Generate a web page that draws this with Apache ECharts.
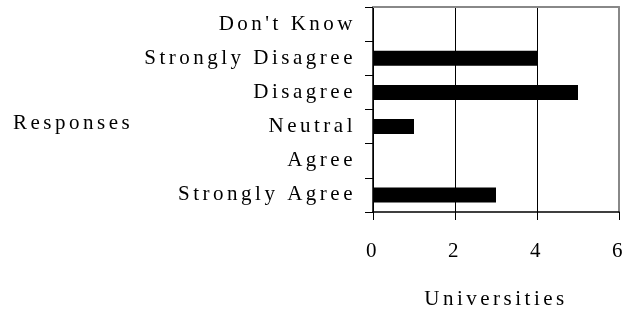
<!DOCTYPE html>
<html>
<head>
<meta charset="utf-8">
<script src="https://cdn.jsdelivr.net/npm/echarts@6/dist/echarts.min.js"></script>
<style>
  html, body { margin: 0; padding: 0; background: #fff; }
  #chart { width: 638px; height: 312px; }
</style>
</head>
<body>
<div id="chart"></div>
<script>
const categories = ['Strongly Agree', 'Agree', 'Neutral', 'Disagree', 'Strongly Disagree', "Don't Know"];
const universities = [3, 0, 1, 5, 4, 0];
const xMin = 0;
const xMax = 6;
const xStep = 2;

const font = 'Liberation Serif';

// the original text is widely letter-spaced; apply it to canvas draw and measure calls
const ctxProto = CanvasRenderingContext2D.prototype;
['fillText', 'strokeText', 'measureText'].forEach(fn => {
  const orig = ctxProto[fn];
  ctxProto[fn] = function () {
    this.letterSpacing = '3.5px';
    return orig.apply(this, arguments);
  };
});

const chart = echarts.init(document.getElementById('chart'));

const option = {
  animation: false,
  backgroundColor: '#fff',
  grid: { left: 373, right: 19, top: 7, bottom: 100, containLabel: false, outerBoundsMode: 'none' },
  graphic: [
    {
      type: 'text',
      left: 13,
      top: 111,
      style: { text: 'Responses', fontSize: 21, fontFamily: font, fill: '#000' }
    }
  ],
  xAxis: [
    {
      type: 'value',
      min: xMin,
      max: xMax,
      interval: xStep,
      name: 'Universities',
      nameLocation: 'middle',
      nameGap: 75,
      nameTextStyle: { fontSize: 21, fontFamily: font, color: '#000' },
      axisLine: { show: true, onZero: false, lineStyle: { color: '#000', width: 1.5 } },
      axisTick: { show: true, length: 8, lineStyle: { color: '#000' } },
      axisLabel: { fontSize: 21, fontFamily: font, color: '#000', margin: 27 },
      splitLine: { show: true, lineStyle: { color: '#000', width: 1 } }
    },
    {
      type: 'value',
      position: 'top',
      min: xMin,
      max: xMax,
      interval: xStep,
      axisLine: { show: true, onZero: false, lineStyle: { color: '#888', width: 2 } },
      axisTick: { show: false },
      axisLabel: { show: false },
      splitLine: { show: false }
    }
  ],
  yAxis: [
    {
      type: 'category',
      data: categories,
      axisLine: { show: true, onZero: false, lineStyle: { color: '#000', width: 1.5 } },
      axisTick: { show: true, length: 8, lineStyle: { color: '#000' } },
      axisLabel: { fontSize: 21, fontFamily: font, color: '#000', margin: 17 },
      splitLine: { show: false }
    },
    {
      type: 'category',
      data: categories,
      position: 'right',
      axisLine: { show: true, onZero: false, lineStyle: { color: '#888', width: 2 } },
      axisTick: { show: false },
      axisLabel: { show: false }
    }
  ],
  series: [
    {
      type: 'bar',
      data: universities,
      barWidth: 15,
      itemStyle: { color: '#000' }
    }
  ]
};

chart.setOption(option);
</script>
</body>
</html>
